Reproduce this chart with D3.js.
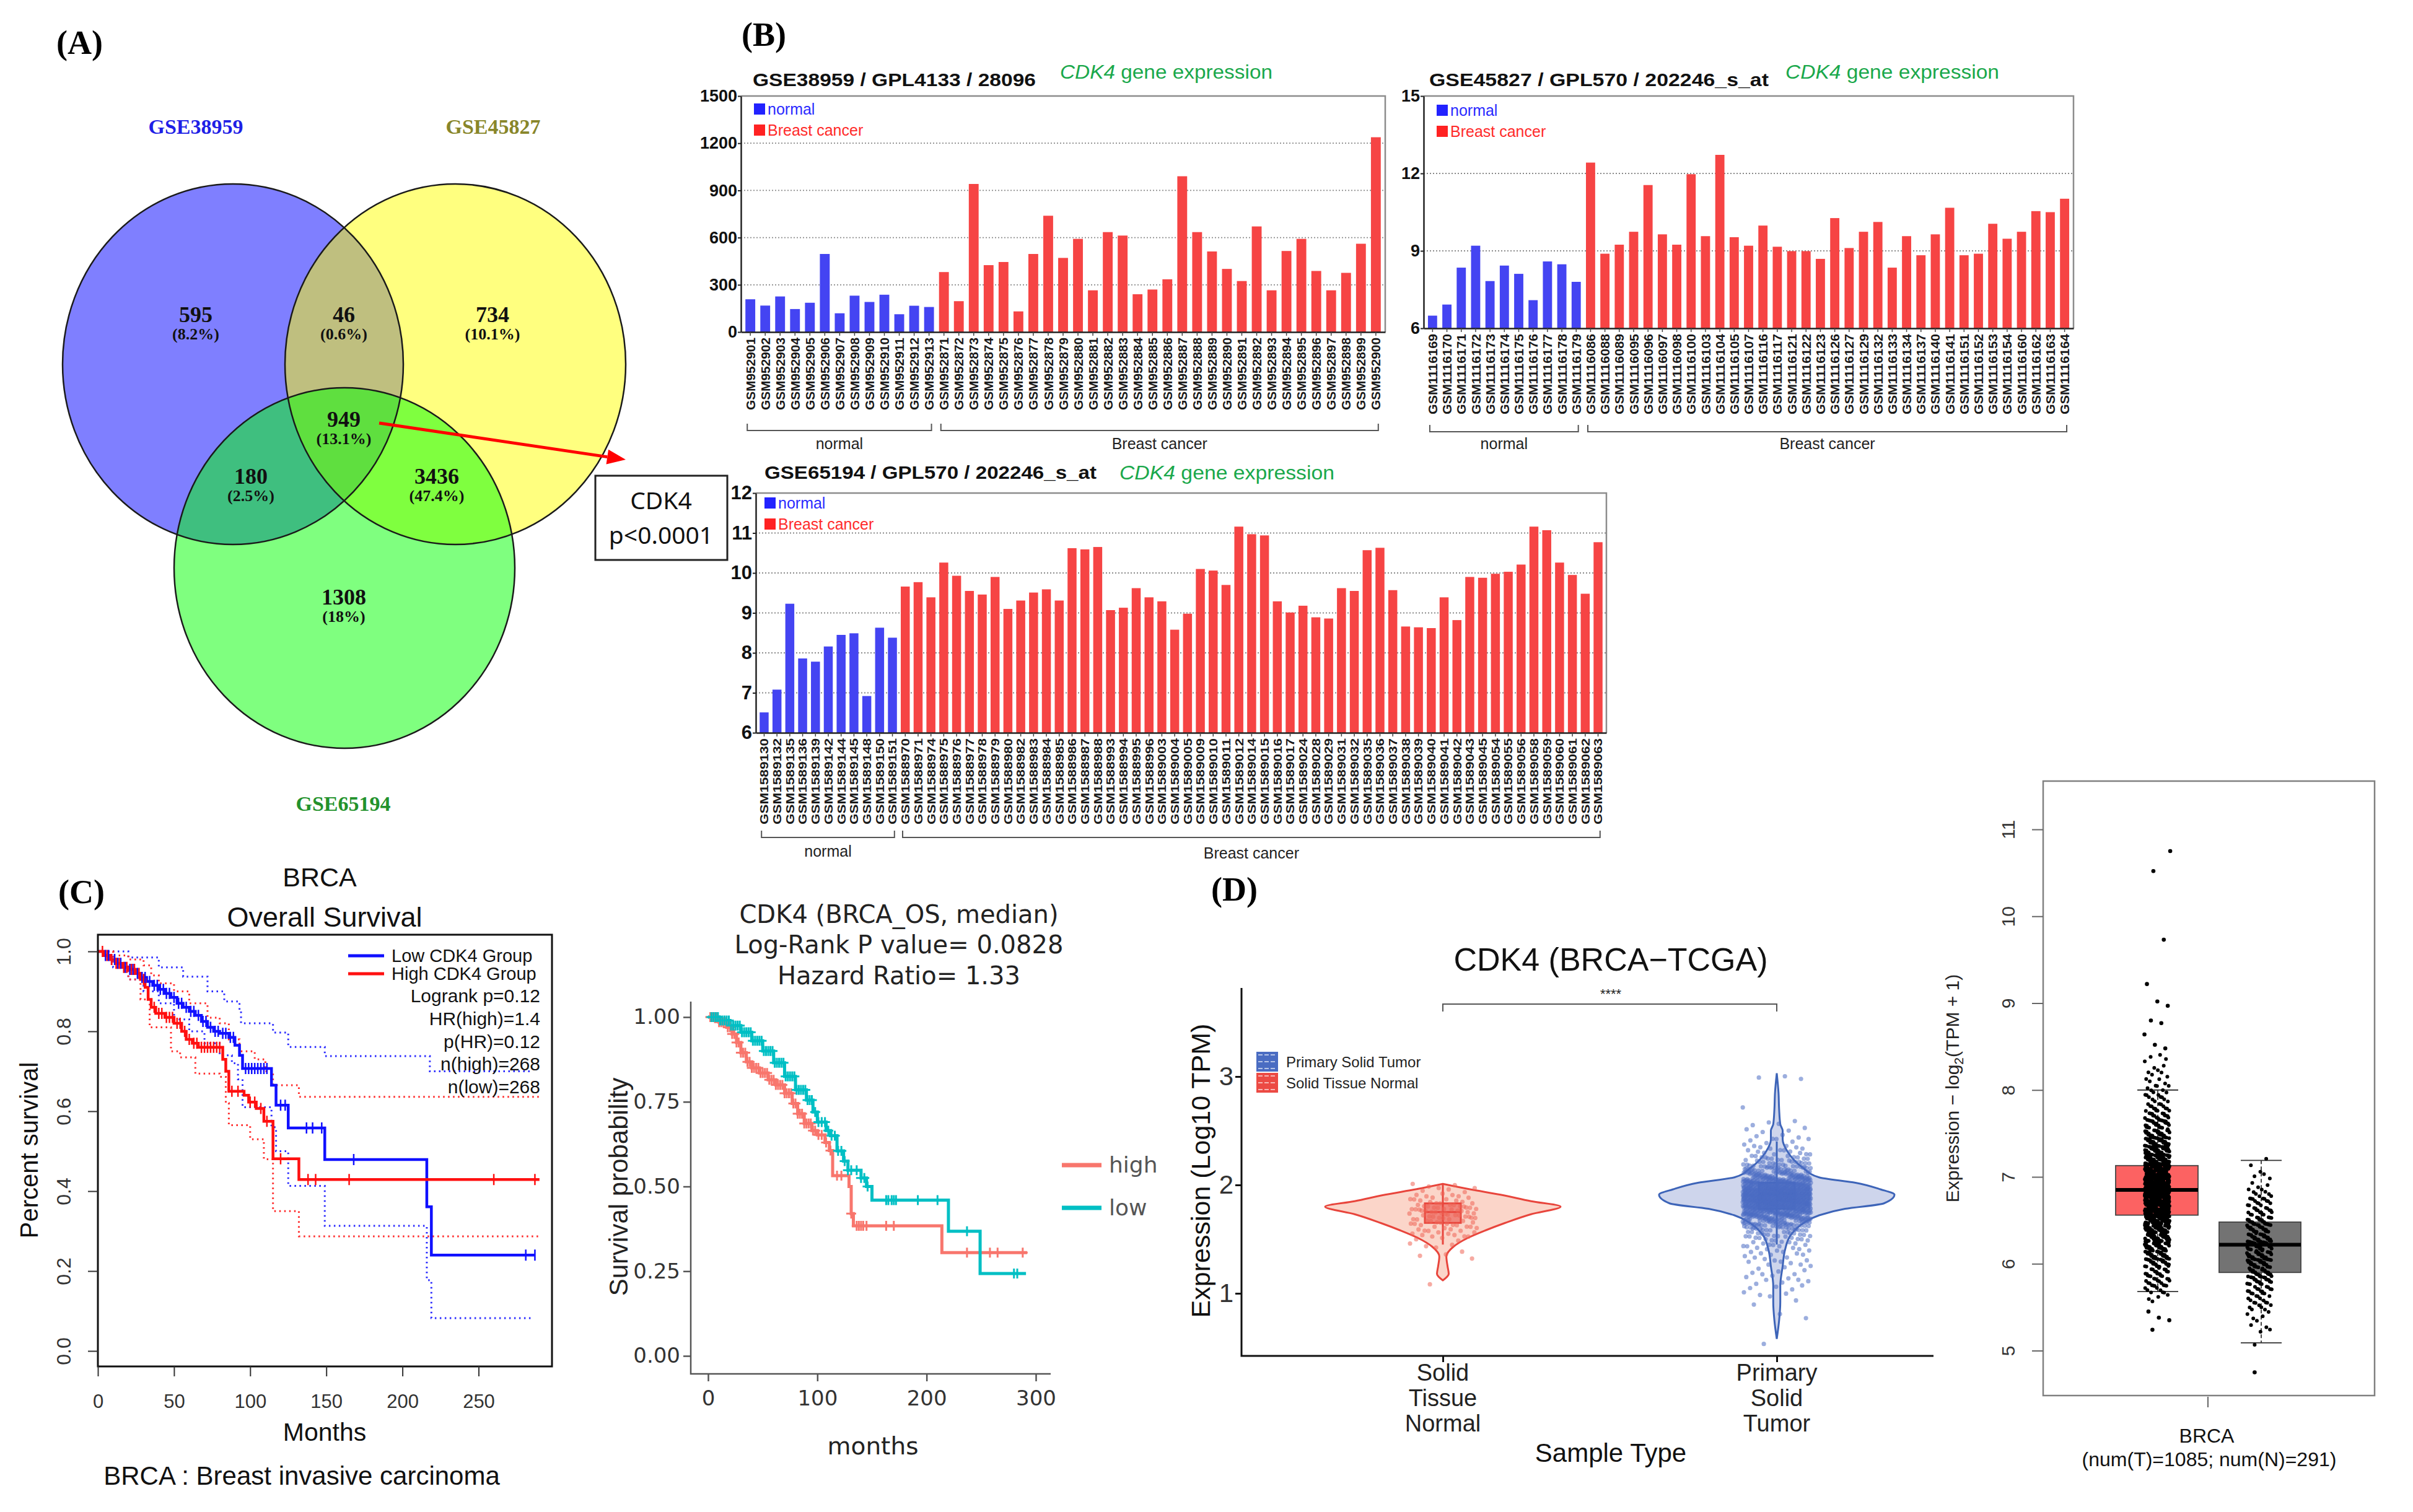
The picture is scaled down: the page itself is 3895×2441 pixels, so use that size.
<!DOCTYPE html>
<html><head><meta charset="utf-8">
<script src="https://cdn.jsdelivr.net/npm/d3@7"></script>
<style>html,body{margin:0;padding:0;background:#fff;}svg{display:block}</style>
</head><body>
<svg id="fig" width="3895" height="2441"></svg>
<script>
// ================= DATA =================
// Panel A – Venn
const vennSetNames = ["GSE38959", "GSE45827", "GSE65194"];
const vennCounts   = ["595", "46", "734", "949", "180", "3436", "1308"];
const vennPercents = ["(8.2%)", "(0.6%)", "(10.1%)", "(13.1%)", "(2.5%)", "(47.4%)", "(18%)"];
const cdk4BoxLines = ["CDK4", "p<0.0001"];

// Panel B – GSE38959
const gse38959NormalIds = ["GSM952901","GSM952902","GSM952903","GSM952904","GSM952905","GSM952906","GSM952907","GSM952908","GSM952909","GSM952910","GSM952911","GSM952912","GSM952913"];
const gse38959NormalVals = [208,168,226,146,186,496,119,231,191,237,113,167,159];
const gse38959CancerIds = ["GSM952871","GSM952872","GSM952873","GSM952874","GSM952875","GSM952876","GSM952877","GSM952878","GSM952879","GSM952880","GSM952881","GSM952882","GSM952883","GSM952884","GSM952885","GSM952886","GSM952887","GSM952888","GSM952889","GSM952890","GSM952891","GSM952892","GSM952893","GSM952894","GSM952895","GSM952896","GSM952897","GSM952898","GSM952899","GSM952900"];
const gse38959CancerVals = [381,196,941,425,445,131,496,739,471,592,265,635,613,240,270,335,990,635,512,401,324,671,265,515,592,388,265,376,561,1238];
const gse38959Ticks = [0,300,600,900,1200,1500];

// Panel B – GSE45827
const gse45827NormalIds = ["GSM1116169","GSM1116170","GSM1116171","GSM1116172","GSM1116173","GSM1116174","GSM1116175","GSM1116176","GSM1116177","GSM1116178","GSM1116179"];
const gse45827NormalVals = [6.49,6.92,8.35,9.20,7.83,8.43,8.11,7.09,8.59,8.48,7.80];
const gse45827CancerIds = ["GSM1116086","GSM1116088","GSM1116089","GSM1116095","GSM1116096","GSM1116097","GSM1116098","GSM1116100","GSM1116103","GSM1116104","GSM1116105","GSM1116107","GSM1116116","GSM1116117","GSM1116121","GSM1116122","GSM1116123","GSM1116126","GSM1116127","GSM1116129","GSM1116132","GSM1116133","GSM1116134","GSM1116137","GSM1116140","GSM1116141","GSM1116151","GSM1116152","GSM1116153","GSM1116154","GSM1116160","GSM1116162","GSM1116163","GSM1116164"];
const gse45827CancerVals = [12.42,8.89,9.24,9.74,11.55,9.64,9.24,11.97,9.57,12.72,9.53,9.20,9.98,9.16,8.99,8.99,8.69,10.27,9.11,9.74,10.12,8.35,9.57,8.83,9.64,10.67,8.83,8.89,10.05,9.47,9.74,10.54,10.50,11.02];
const gse45827Ticks = [6,9,12,15];

// Panel B – GSE65194
const gse65194NormalIds = ["GSM1589130","GSM1589132","GSM1589135","GSM1589136","GSM1589139","GSM1589142","GSM1589144","GSM1589145","GSM1589148","GSM1589150","GSM1589151"];
const gse65194NormalVals = [6.51,7.08,9.23,7.86,7.78,8.16,8.45,8.49,6.92,8.63,8.38];
const gse65194CancerIds = ["GSM1588970","GSM1588971","GSM1588974","GSM1588975","GSM1588976","GSM1588977","GSM1588978","GSM1588979","GSM1588980","GSM1588982","GSM1588983","GSM1588984","GSM1588985","GSM1588986","GSM1588987","GSM1588988","GSM1588993","GSM1588994","GSM1588995","GSM1588996","GSM1589003","GSM1589004","GSM1589005","GSM1589009","GSM1589010","GSM1589011","GSM1589012","GSM1589014","GSM1589015","GSM1589016","GSM1589017","GSM1589024","GSM1589028","GSM1589029","GSM1589031","GSM1589032","GSM1589035","GSM1589036","GSM1589037","GSM1589038","GSM1589039","GSM1589040","GSM1589041","GSM1589042","GSM1589043","GSM1589045","GSM1589054","GSM1589055","GSM1589056","GSM1589058","GSM1589059","GSM1589060","GSM1589061","GSM1589062","GSM1589063"];
const gse65194CancerVals = [9.66,9.77,9.39,10.26,9.93,9.55,9.46,9.90,9.10,9.31,9.51,9.59,9.31,10.62,10.59,10.65,9.07,9.13,9.62,9.39,9.29,8.58,8.98,10.10,10.06,9.70,11.16,10.97,10.94,9.29,9.01,9.18,8.89,8.86,9.62,9.55,10.57,10.63,9.57,8.66,8.64,8.62,9.39,8.82,9.90,9.88,9.98,10.03,10.21,11.16,11.07,10.26,9.95,9.48,10.77];
const gse65194Ticks = [6,7,8,9,10,11,12];

// Panel C – GEPIA KM  [months, survival]
const kmLowSteps  = [[0,1],[4,0.99],[8,0.98],[12,0.97],[16,0.96],[20,0.955],[24,0.945],[28,0.935],[32,0.925],[36,0.915],[40,0.905],[44,0.895],[48,0.885],[52,0.87],[56,0.86],[60,0.85],[64,0.84],[68,0.825],[72,0.81],[76,0.80],[80,0.795],[86,0.785],[90,0.765],[93,0.74],[95,0.707],[114,0.665],[117,0.615],[125,0.558],[149,0.479],[216,0.361],[219,0.240]];
const kmLowEnd = 287;
const kmHighSteps = [[0,1],[4,0.99],[8,0.98],[12,0.97],[16,0.96],[20,0.955],[25,0.945],[28,0.93],[31,0.91],[33,0.88],[35,0.86],[38,0.845],[44,0.835],[50,0.82],[55,0.80],[58,0.78],[62,0.77],[66,0.76],[82,0.73],[84,0.70],[86,0.65],[96,0.64],[99,0.623],[104,0.607],[109,0.575],[115,0.481],[132,0.429]];
const kmHighEnd = 290;
const kmLowUpper  = [[0,1],[20,0.985],[40,0.96],[56,0.937],[72,0.90],[83,0.875],[93,0.85],[94,0.82],[115,0.797],[125,0.761],[149,0.738],[218,0.70]];
const kmLowLower  = [[0,1],[10,0.96],[20,0.93],[30,0.90],[40,0.87],[50,0.83],[60,0.80],[70,0.77],[80,0.74],[88,0.72],[92,0.68],[95,0.61],[114,0.56],[117,0.50],[125,0.413],[149,0.313],[216,0.177],[219,0.082]];
const kmHighUpper = [[0,1],[10,0.99],[20,0.98],[30,0.965],[35,0.94],[40,0.92],[50,0.90],[60,0.87],[72,0.834],[80,0.82],[86,0.78],[93,0.75],[103,0.73],[110,0.70],[115,0.665],[132,0.636]];
const kmHighLower = [[0,1],[10,0.97],[20,0.93],[28,0.88],[34,0.81],[48,0.75],[54,0.735],[64,0.694],[80,0.686],[84,0.62],[86,0.565],[100,0.53],[109,0.48],[115,0.35],[132,0.287]];
const kmLowCensor  = [5,7,9,11,13,15,18,21,23,26,29,31,34,37,39,41,43,45,47,50,53,55,58,61,63,66,69,71,74,77,79,82,84,87,89,97,99,101,103,105,107,109,111,120,123,137,141,147,168,281,287];
const kmHighCensor = [3,6,9,12,14,17,19,22,24,27,30,37,40,42,45,47,49,52,54,57,60,63,65,68,70,72,74,76,78,80,88,92,100,103,107,111,120,138,143,165,260,287];
const kmLegend = ["Low CDK4 Group", "High CDK4 Group"];
const kmStats = ["Logrank p=0.12", "HR(high)=1.4", "p(HR)=0.12", "n(high)=268", "n(low)=268"];
const kmTicksX = [0,50,100,150,200,250];
const kmTicksY = [0,0.2,0.4,0.6,0.8,1.0];

// Panel C – KM plotter
const kpLowSteps  = [[0,1],[10,0.99],[20,0.975],[30,0.955],[40,0.93],[50,0.90],[60,0.865],[70,0.825],[80,0.785],[90,0.755],[96,0.72],[100,0.69],[108,0.665],[112,0.65],[118,0.605],[124,0.575],[128,0.548],[140,0.525],[145,0.50],[150,0.46],[220,0.368],[249,0.243]];
const kpLowEnd = 291;
const kpHighSteps = [[0,1],[10,0.985],[17,0.97],[22,0.95],[26,0.925],[30,0.895],[35,0.868],[40,0.85],[47,0.835],[55,0.815],[62,0.80],[70,0.775],[77,0.745],[82,0.715],[88,0.686],[95,0.665],[100,0.652],[107,0.63],[111,0.606],[114,0.532],[129,0.50],[131,0.42],[133,0.384],[214,0.305]];
const kpHighEnd = 292;
const kpLowCensor  = [3,5,7,9,11,13,15,17,19,21,23,25,27,29,31,33,35,37,39,41,43,45,47,49,51,53,55,57,59,61,63,65,67,69,71,73,75,77,79,81,83,85,87,89,91,93,95,98,101,104,107,110,113,116,119,122,125,128,131,136,140,143,146,163,165,168,170,172,192,210,237,280,283];
const kpHighCensor = [2,4,6,8,10,12,14,16,18,20,22,24,26,28,30,32,34,36,38,40,42,44,46,48,50,52,54,56,58,60,62,64,66,68,70,72,74,76,78,80,82,84,86,88,90,92,94,96,98,101,104,108,112,118,122,131,136,138,140,142,145,163,170,237,258,265,288];
const kpTitle = ["CDK4 (BRCA_OS, median)", "Log-Rank P value= 0.0828", "Hazard Ratio= 1.33"];
const kpTicksX = [0,100,200,300];
const kpTicksY = [0,0.25,0.5,0.75,1.0];
const kpLegend = ["high", "low"];

// Panel D – violin (log10 TPM)
const violinCats = ["Solid Tissue Normal", "Primary Solid Tumor"];
const normalViolinLevels  = [1.12,1.18,1.25,1.34,1.43,1.51,1.58,1.65,1.73,1.80,1.85,1.91,1.96,2.01];
const normalViolinDensity = [0,0.05,0.04,0.03,0.09,0.21,0.36,0.53,0.75,1.0,0.75,0.49,0.23,0];
const tumorViolinLevels   = [0.58,0.75,0.92,1.07,1.25,1.40,1.54,1.65,1.72,1.78,1.83,1.91,1.96,2.02,2.07,2.16,2.31,2.42,2.50,2.56,2.70,2.85,3.03];
const tumorViolinDensity  = [0,0.02,0.03,0.03,0.05,0.07,0.12,0.23,0.36,0.58,0.91,1.0,0.88,0.67,0.36,0.22,0.09,0.05,0.05,0.03,0.02,0.015,0];
const normalViolinBinStart = 1.10, violinBinStep = 0.05;
const normalViolinCounts = [1,0,0,0,1,2,2,3,5,7,10,12,14,15,14,10,7,5,3];
const tumorViolinBinStart = 0.55;
const tumorViolinCounts = [1,0,0,0,1,1,0,1,2,3,4,4,4,5,5,6,7,8,10,12,16,25,40,60,85,110,130,135,120,95,70,45,30,20,14,10,7,5,4,3,3,2,0,1,0,0,0,0,0,3];
const normalViolinBox = {q1:1.65, med:1.75, q3:1.83, lo:1.45, hi:2.0};
const tumorViolinBox  = {q1:1.78, med:1.92, q3:2.02, lo:1.45, hi:2.4};
const violinTicks = [1,2,3];

// Panel D – GEPIA box plot (log2 TPM+1)
const boxTumor  = {q1:6.56, med:6.85, q3:7.13, lo:5.68, hi:8.0};
const boxNormal = {q1:5.90, med:6.22, q3:6.48, lo:5.09, hi:7.19};
const boxTumorBinStart = 5.6, boxBinStep = 0.1;
const boxTumorCounts = [4,10,14,18,25,32,40,50,60,70,80,88,92,90,85,75,62,50,40,32,25,18,14,10,7,5,5,3,3];
const boxTumorOutliers = [5.24,5.35,5.38,5.45,8.48,8.52,8.64,8.77,8.80,8.97,9.02,9.22,9.73,10.52,10.75];
const boxNormalBinStart = 5.1;
const boxNormalCounts = [1,2,3,4,7,10,15,20,24,28,30,30,28,24,20,16,12,8,5,3,2,1];
const boxNormalOutliers = [4.75];
const boxTicks = [5,6,7,8,9,10,11];

// ================= DRAWING =================
const svg = d3.select("#fig");
const F_SANS = "'Liberation Sans', Arial, sans-serif";
const F_SERIF = "'Liberation Serif', 'Times New Roman', serif";
const F_DV = "'DejaVu Sans', Verdana, sans-serif";
const F_CAL = "'Noto Sans', 'Open Sans', sans-serif";
const fmtInt = d3.format("d");

function txt(g, x, y, s, o = {}) {
  const t = g.append("text").attr("x", x).attr("y", y).text(s)
    .attr("font-family", o.ff || F_SANS).attr("font-size", o.fs || 20)
    .attr("font-weight", o.fw || "normal").attr("fill", o.fill || "#000")
    .attr("text-anchor", o.anchor || "start");
  if (o.len) t.attr("textLength", o.len).attr("lengthAdjust", "spacingAndGlyphs");
  if (o.style) t.attr("font-style", o.style);
  if (o.rot) t.attr("transform", `rotate(${o.rot},${x},${y})`);
  return t;
}
const jx = i => ((i * 0.6180339887 + 0.31) % 1);
const jy = i => ((i * 0.7548776662 + 0.17) % 1);

// panel letters
txt(svg, 91, 87, "(A)", {ff: F_SERIF, fs: 54, fw: "bold"});
txt(svg, 1197, 74, "(B)", {ff: F_SERIF, fs: 54, fw: "bold"});
txt(svg, 94, 1458, "(C)", {ff: F_SERIF, fs: 54, fw: "bold"});
txt(svg, 1955, 1454, "(D)", {ff: F_SERIF, fs: 54, fw: "bold"});

// ---------- Panel A ----------
(function () {
  const g = svg.append("g");
  const ell = [{cx: 376, cy: 588, c: "#0000ff"}, {cx: 735, cy: 588, c: "#ffff00"}, {cx: 556, cy: 917, c: "#00ff00"}];
  g.selectAll(".ef").data(ell).join("ellipse")
    .attr("cx", d => d.cx).attr("cy", d => d.cy).attr("rx", 275).attr("ry", 291)
    .attr("fill", d => d.c).attr("fill-opacity", 0.5);
  g.selectAll(".es").data(ell).join("ellipse")
    .attr("cx", d => d.cx).attr("cy", d => d.cy).attr("rx", 275).attr("ry", 291)
    .attr("fill", "none").attr("stroke", "#1a1a1a").attr("stroke-width", 2.5);
  const setPos = [[316, 216, "#1f1fe6"], [796, 216, "#88862a"], [554, 1309, "#23922c"]];
  vennSetNames.forEach((s, i) => txt(g, setPos[i][0], setPos[i][1], s, {ff: F_SERIF, fw: "bold", fs: 34, anchor: "middle", fill: setPos[i][2]}));
  const pos = [[316, 520], [555, 520], [795, 520], [555, 689], [405, 781], [705, 781], [555, 976]];
  vennCounts.forEach((s, i) => {
    txt(g, pos[i][0], pos[i][1], s, {ff: F_SERIF, fw: "bold", fs: 36, anchor: "middle", fill: "#111"});
    txt(g, pos[i][0], pos[i][1] + 28, vennPercents[i], {ff: F_SERIF, fw: "bold", fs: 26, anchor: "middle", fill: "#111"});
  });
  const x1 = 612, y1 = 683, x2 = 1010, y2 = 742;
  const L = Math.hypot(x2 - x1, y2 - y1), ux = (x2 - x1) / L, uy = (y2 - y1) / L;
  const hl = 30, hw = 12;
  g.append("line").attr("x1", x1).attr("y1", y1).attr("x2", x2 - ux * hl).attr("y2", y2 - uy * hl)
    .attr("stroke", "#ff0000").attr("stroke-width", 5);
  g.append("polygon").attr("points", [[x2, y2], [x2 - ux * hl - uy * hw, y2 - uy * hl + ux * hw], [x2 - ux * hl + uy * hw, y2 - uy * hl - ux * hw]].map(p => p.join(",")).join(" "))
    .attr("fill", "#ff0000");
  g.append("rect").attr("x", 961).attr("y", 768).attr("width", 213).attr("height", 136)
    .attr("fill", "#fff").attr("stroke", "#222").attr("stroke-width", 3);
  txt(g, 1067, 822, cdk4BoxLines[0], {ff: F_CAL, fs: 39, anchor: "middle", fill: "#111"});
  txt(g, 1067, 878, cdk4BoxLines[1], {ff: F_CAL, fs: 39, anchor: "middle", fill: "#111"});
})();

// ---------- Panel B ----------
function barChart(c) {
  const g = svg.append("g");
  const ids = c.nIds.concat(c.cIds), vals = c.nVals.concat(c.cVals);
  const nN = c.nIds.length;
  const x = d3.scaleBand().domain(ids).range([c.x0, c.x1]).paddingInner(c.pi).paddingOuter(c.po);
  const y = d3.scaleLinear().domain([c.ticks[0], c.ticks[c.ticks.length - 1]]).range([c.yB, c.yT]);
  g.selectAll(".grid").data(c.ticks.slice(1, -1)).join("line")
    .attr("x1", c.x0).attr("x2", c.x1).attr("y1", d => y(d)).attr("y2", d => y(d))
    .attr("stroke", "#8a8a8a").attr("stroke-width", 1.8).attr("stroke-dasharray", "2,3");
  g.append("path").attr("d", `M${c.x0},${c.yT}H${c.x1}V${c.yB}`).attr("fill", "none")
    .attr("stroke", "#8c8c8c").attr("stroke-width", 2.5);
  g.selectAll(".bar").data(ids).join("rect")
    .attr("x", d => x(d)).attr("width", x.bandwidth())
    .attr("y", (d, i) => y(vals[i])).attr("height", (d, i) => y(c.ticks[0]) - y(vals[i]))
    .attr("fill", (d, i) => i < nN ? "#4444f2" : "#f64444");
  const ya = g.append("g").attr("transform", `translate(${c.x0},0)`)
    .call(d3.axisLeft(y).tickValues(c.ticks).tickFormat(fmtInt).tickSize(5).tickSizeOuter(0));
  ya.select(".domain").attr("stroke", "#222").attr("stroke-width", 2.5);
  ya.selectAll(".tick line").attr("stroke", "#222").attr("stroke-width", 2);
  ya.selectAll("text").attr("font-family", F_SANS).attr("font-weight", "bold")
    .attr("font-size", c.tickFs).attr("fill", "#111").attr("x", -6);
  const xa = g.append("g").attr("transform", `translate(0,${c.yB})`)
    .call(d3.axisBottom(x).tickSize(6).tickSizeOuter(0));
  xa.select(".domain").attr("stroke", "#222").attr("stroke-width", 2.5);
  xa.selectAll(".tick line").attr("stroke", "#444").attr("stroke-width", 1.5);
  xa.selectAll("text").attr("transform", "rotate(-90)").attr("text-anchor", "end")
    .attr("x", -9).attr("y", 0).attr("dy", "0.36em")
    .attr("font-family", F_SANS).attr("font-weight", "bold").attr("font-size", c.labFs)
    .attr("fill", "#1a1a1a").attr("textLength", c.labLen).attr("lengthAdjust", "spacingAndGlyphs");
  const bracket = (i0, i1, label, ty) => {
    const a = x(ids[i0]) + 3, b = x(ids[i1]) + x.bandwidth() - 4;
    g.append("path").attr("d", `M${a},${c.brY - 11}V${c.brY}H${b}V${c.brY - 11}`)
      .attr("fill", "none").attr("stroke", "#555").attr("stroke-width", 2);
    txt(g, (a + b) / 2, ty, label, {fs: 25, anchor: "middle", fill: "#222"});
  };
  bracket(0, nN - 1, "normal", c.brT1);
  bracket(nN, ids.length - 1, "Breast cancer", c.brT2);
  txt(g, c.tX, c.tY, c.title, {fw: "bold", fs: 30, len: c.tLen, fill: "#111"});
  const gt = g.append("text").attr("x", c.gX).attr("y", c.gY).attr("font-family", F_SANS)
    .attr("font-size", 31).attr("fill", "#1aa84b").attr("textLength", c.gLen).attr("lengthAdjust", "spacingAndGlyphs");
  gt.append("tspan").attr("font-style", "italic").text("CDK4");
  gt.append("tspan").text(" gene expression");
  const lx = c.x0 + c.legDx, ly = c.yT + c.legDy;
  g.append("rect").attr("x", lx).attr("y", ly).attr("width", 18).attr("height", 18).attr("fill", "#2222ff");
  txt(g, lx + 22, ly + 18, "normal", {fs: 25, fill: "#2a2aff"});
  g.append("rect").attr("x", lx).attr("y", ly + 34).attr("width", 18).attr("height", 18).attr("fill", "#ff2222");
  txt(g, lx + 22, ly + 52, "Breast cancer", {fs: 25, fill: "#ff2a2a"});
}
barChart({nIds: gse38959NormalIds, nVals: gse38959NormalVals, cIds: gse38959CancerIds, cVals: gse38959CancerVals,
  ticks: gse38959Ticks, x0: 1196, x1: 2236, yT: 155, yB: 536, pi: 0.34, po: 0.3, tickFs: 27, labFs: 21, labLen: 117,
  brY: 695, brT1: 725, brT2: 725, title: "GSE38959 / GPL4133 / 28096", tX: 1215, tY: 139, tLen: 457,
  gX: 1711, gY: 127, gLen: 343, legDx: 21, legDy: 12});
barChart({nIds: gse45827NormalIds, nVals: gse45827NormalVals, cIds: gse45827CancerIds, cVals: gse45827CancerVals,
  ticks: gse45827Ticks, x0: 2298, x1: 3347, yT: 155, yB: 530, pi: 0.36, po: 0.3, tickFs: 27, labFs: 21, labLen: 130,
  brY: 697, brT1: 725, brT2: 725, title: "GSE45827 / GPL570 / 202246_s_at", tX: 2307, tY: 139, tLen: 548,
  gX: 2882, gY: 127, gLen: 345, legDx: 21, legDy: 14});
barChart({nIds: gse65194NormalIds, nVals: gse65194NormalVals, cIds: gse65194CancerIds, cVals: gse65194CancerVals,
  ticks: gse65194Ticks, x0: 1220, x1: 2593, yT: 796, yB: 1183, pi: 0.3, po: 0.3, tickFs: 31, labFs: 19, labLen: 139,
  brY: 1352, brT1: 1383, brT2: 1386, title: "GSE65194 / GPL570 / 202246_s_at", tX: 1234, tY: 773, tLen: 536,
  gX: 1807, gY: 774, gLen: 347, legDx: 14, legDy: 7});

// ---------- Panel C – GEPIA KM ----------
function stepLine(steps, endT, xs, ys) {
  const pts = steps.concat([[endT, steps[steps.length - 1][1]]]);
  return d3.line().x(d => xs(d[0])).y(d => ys(d[1])).curve(d3.curveStepAfter)(pts);
}
function survAt(steps, t) { let s = steps[0][1]; for (const [tt, ss] of steps) { if (tt <= t) s = ss; else break; } return s; }
function censorPath(times, steps, xs, ys, h, w) {
  return times.map(t => { const X = xs(t), Y = ys(survAt(steps, t)); return `M${X},${Y - h}V${Y + h}M${X - w},${Y}H${X + w}`; }).join("");
}
(function () {
  const g = svg.append("g");
  const xs = d3.scaleLinear().domain([0, 250]).range([158, 772.5]);
  const ys = d3.scaleLinear().domain([0, 1]).range([2181, 1536]);
  txt(g, 516, 1431, "BRCA", {fs: 43, anchor: "middle", fill: "#111"});
  txt(g, 524, 1496, "Overall Survival", {fs: 45, anchor: "middle", fill: "#111"});
  [[kmLowUpper, kmLowEnd - 2, "#2b2bff"], [kmLowLower, kmLowEnd - 2, "#2b2bff"], [kmHighUpper, kmHighEnd, "#ff2b2b"], [kmHighLower, kmHighEnd, "#ff2b2b"]]
    .forEach(([s, e, col]) => g.append("path").attr("d", stepLine(s, e, xs, ys)).attr("fill", "none")
      .attr("stroke", col).attr("stroke-width", 3).attr("stroke-dasharray", "2.5,5.5"));
  g.append("path").attr("d", stepLine(kmLowSteps, kmLowEnd, xs, ys)).attr("fill", "none").attr("stroke", "#1010ff").attr("stroke-width", 4.5);
  g.append("path").attr("d", stepLine(kmHighSteps, kmHighEnd, xs, ys)).attr("fill", "none").attr("stroke", "#ff1010").attr("stroke-width", 4.5);
  g.append("path").attr("d", censorPath(kmLowCensor, kmLowSteps, xs, ys, 9, 0)).attr("stroke", "#1010ff").attr("stroke-width", 2.5).attr("fill", "none");
  g.append("path").attr("d", censorPath(kmHighCensor, kmHighSteps, xs, ys, 9, 0)).attr("stroke", "#ff1010").attr("stroke-width", 2.5).attr("fill", "none");
  g.append("rect").attr("x", 158).attr("y", 1509).attr("width", 733).attr("height", 697).attr("fill", "none").attr("stroke", "#111").attr("stroke-width", 3);
  const ya = g.append("g").attr("transform", "translate(158,0)").call(d3.axisLeft(ys).tickValues(kmTicksY).tickFormat(d3.format(".1f")).tickSize(16));
  ya.select(".domain").remove();
  ya.selectAll(".tick line").attr("stroke", "#333").attr("stroke-width", 2);
  ya.selectAll("text").attr("transform", "rotate(-90)").attr("x", 0).attr("y", -44).attr("dy", 0)
    .attr("text-anchor", "middle").attr("font-family", F_SANS).attr("font-size", 32).attr("fill", "#333");
  const xa = g.append("g").attr("transform", "translate(0,2206)").call(d3.axisBottom(xs).tickValues(kmTicksX).tickFormat(fmtInt).tickSize(16));
  xa.select(".domain").remove();
  xa.selectAll(".tick line").attr("stroke", "#333").attr("stroke-width", 2);
  xa.selectAll("text").attr("y", 67).attr("dy", 0).attr("font-family", F_SANS).attr("font-size", 31).attr("fill", "#333");
  txt(g, 524, 2326, "Months", {fs: 41, anchor: "middle", fill: "#111"});
  txt(g, 61, 1857, "Percent survival", {fs: 40, anchor: "middle", fill: "#111", rot: -90});
  txt(g, 487, 2397, "BRCA : Breast invasive carcinoma", {fs: 42, anchor: "middle", fill: "#111"});
  g.append("line").attr("x1", 562).attr("x2", 620).attr("y1", 1543).attr("y2", 1543).attr("stroke", "#1010ff").attr("stroke-width", 5);
  g.append("line").attr("x1", 562).attr("x2", 620).attr("y1", 1572).attr("y2", 1572).attr("stroke", "#ff1010").attr("stroke-width", 5);
  txt(g, 632, 1553, kmLegend[0], {fs: 29, fill: "#111"});
  txt(g, 632, 1582, kmLegend[1], {fs: 29, fill: "#111"});
  const base = [1618, 1655, 1692, 1728, 1765];
  kmStats.forEach((s, i) => txt(g, 872, base[i], s, {fs: 30, anchor: "end", fill: "#111"}));
})();

// ---------- Panel C – KM plotter ----------
(function () {
  const g = svg.append("g");
  const xs = d3.scaleLinear().domain([0, 300]).range([1143, 1672]);
  const ys = d3.scaleLinear().domain([0, 1]).range([2189, 1642]);
  [1490, 1539, 1589].forEach((b, i) => txt(g, 1451, b, kpTitle[i], {ff: F_DV, fs: 40, anchor: "middle", fill: "#222"}));
  g.append("path").attr("d", "M1115,1617V2218H1696").attr("fill", "none").attr("stroke", "#555").attr("stroke-width", 2.5);
  const ya = g.append("g").attr("transform", "translate(1115,0)").call(d3.axisLeft(ys).tickValues(kpTicksY).tickFormat(d3.format(".2f")).tickSize(12));
  ya.select(".domain").remove();
  ya.selectAll(".tick line").attr("stroke", "#555").attr("stroke-width", 2.5);
  ya.selectAll("text").attr("x", -17).attr("font-family", F_DV).attr("font-size", 34).attr("fill", "#333");
  const xa = g.append("g").attr("transform", "translate(0,2218)").call(d3.axisBottom(xs).tickValues(kpTicksX).tickFormat(fmtInt).tickSize(12));
  xa.select(".domain").remove();
  xa.selectAll(".tick line").attr("stroke", "#555").attr("stroke-width", 2.5);
  xa.selectAll("text").attr("y", 51).attr("dy", 0).attr("font-family", F_DV).attr("font-size", 34).attr("fill", "#333");
  g.append("path").attr("d", stepLine(kpHighSteps, kpHighEnd, xs, ys)).attr("fill", "none").attr("stroke", "#f8766d").attr("stroke-width", 5);
  g.append("path").attr("d", stepLine(kpLowSteps, kpLowEnd, xs, ys)).attr("fill", "none").attr("stroke", "#00bfc4").attr("stroke-width", 5);
  g.append("path").attr("d", censorPath(kpHighCensor, kpHighSteps, xs, ys, 8, 8)).attr("stroke", "#f8766d").attr("stroke-width", 3).attr("fill", "none");
  g.append("path").attr("d", censorPath(kpLowCensor, kpLowSteps, xs, ys, 8, 8)).attr("stroke", "#00bfc4").attr("stroke-width", 3).attr("fill", "none");
  txt(g, 1013, 1916, "Survival probability", {fs: 42, anchor: "middle", fill: "#222", rot: -90});
  txt(g, 1409, 2348, "months", {ff: F_DV, fs: 39, anchor: "middle", fill: "#222"});
  g.append("line").attr("x1", 1714).attr("x2", 1778).attr("y1", 1881).attr("y2", 1881).attr("stroke", "#f8766d").attr("stroke-width", 7);
  g.append("line").attr("x1", 1714).attr("x2", 1778).attr("y1", 1950).attr("y2", 1950).attr("stroke", "#00bfc4").attr("stroke-width", 7);
  txt(g, 1790, 1893, kpLegend[0], {ff: F_DV, fs: 36, fill: "#555"});
  txt(g, 1790, 1962, kpLegend[1], {ff: F_DV, fs: 36, fill: "#555"});
})();

// ---------- Panel D – violin ----------
function binPoints(start, step, counts) {
  const out = []; let k = 0;
  counts.forEach((c, bi) => { for (let j = 0; j < c; j++) { out.push({v: start + bi * step + (jy(k) - 0.5) * step, k}); k++; } });
  return out;
}
(function () {
  const g = svg.append("g");
  const yv = d3.scaleLinear().domain([1, 3]).range([2088, 1738]);
  const xv = d3.scalePoint().domain(violinCats).range([2329, 2868]);
  const ws = d3.scaleLinear().domain([0, 1]).range([0, 190]);
  txt(g, 2600, 1567, "CDK4 (BRCA\u2212TCGA)", {fs: 52, anchor: "middle", fill: "#111"});
  const violins = [
    {cat: violinCats[0], lv: normalViolinLevels, dn: normalViolinDensity, stroke: "#e8453c", fill: "#fbd0c3", pt: "#ee6556",
      pts: binPoints(normalViolinBinStart, violinBinStep, normalViolinCounts), box: normalViolinBox},
    {cat: violinCats[1], lv: tumorViolinLevels, dn: tumorViolinDensity, stroke: "#3d64b8", fill: "#c9d0ea", pt: "#4a6bc2",
      pts: binPoints(tumorViolinBinStart, violinBinStep, tumorViolinCounts), box: tumorViolinBox}];
  violins.forEach(v => {
    const cx = xv(v.cat);
    const data = v.lv.map((l, i) => [l, v.dn[i]]);
    const area = d3.area().curve(d3.curveMonotoneY).y(d => yv(d[0])).x0(d => cx - ws(d[1])).x1(d => cx + ws(d[1]));
    g.append("path").attr("d", area(data)).attr("fill", v.fill).attr("fill-opacity", 0.9).attr("stroke", v.stroke).attr("stroke-width", 3);
    const b = v.box;
    g.append("line").attr("x1", cx).attr("x2", cx).attr("y1", yv(b.lo)).attr("y2", yv(b.hi)).attr("stroke", v.stroke).attr("stroke-width", 3);
    g.append("rect").attr("x", cx - 29).attr("width", 58).attr("y", yv(b.q3)).attr("height", yv(b.q1) - yv(b.q3))
      .attr("fill", v.stroke).attr("fill-opacity", 0.55).attr("stroke", v.stroke).attr("stroke-width", 3);
    g.append("line").attr("x1", cx - 29).attr("x2", cx + 29).attr("y1", yv(b.med)).attr("y2", yv(b.med)).attr("stroke", v.stroke).attr("stroke-width", 3);
    g.selectAll(null).data(v.pts).join("circle")
      .attr("cx", d => cx + (jx(d.k) - 0.5) * 110).attr("cy", d => yv(d.v)).attr("r", 3.6)
      .attr("fill", v.pt).attr("fill-opacity", 0.55);
  });
  g.append("path").attr("d", "M2004,1595V2189H3121").attr("fill", "none").attr("stroke", "#111").attr("stroke-width", 3);
  const ya = g.append("g").attr("transform", "translate(2004,0)").call(d3.axisLeft(yv).tickValues(violinTicks).tickFormat(fmtInt).tickSize(10));
  ya.select(".domain").remove();
  ya.selectAll(".tick line").attr("stroke", "#111").attr("stroke-width", 3);
  ya.selectAll("text").attr("x", -13).attr("font-family", F_SANS).attr("font-size", 42).attr("fill", "#333");
  const xa = g.append("g").attr("transform", "translate(0,2189)").call(d3.axisBottom(xv).tickSize(10).tickFormat(""));
  xa.select(".domain").remove();
  xa.selectAll(".tick line").attr("stroke", "#111").attr("stroke-width", 3);
  violinCats.forEach(cat => {
    const words = cat === violinCats[0] ? ["Solid", "Tissue", "Normal"] : ["Primary", "Solid", "Tumor"];
    words.forEach((w, i) => txt(g, xv(cat), 2229 + i * 41, w, {fs: 38, anchor: "middle", fill: "#222"}));
  });
  txt(g, 2600, 2360, "Sample Type", {fs: 42, anchor: "middle", fill: "#111"});
  txt(g, 1953, 1890, "Expression (Log10 TPM)", {fs: 43, anchor: "middle", fill: "#111", rot: -90});
  g.append("path").attr("d", `M${xv(violinCats[0])},1633V1621H${xv(violinCats[1])}V1633`).attr("fill", "none").attr("stroke", "#555").attr("stroke-width", 2);
  txt(g, 2600, 1612, "****", {fs: 22, anchor: "middle", fill: "#222"});
  const leg = [["#4a6cc2", "Primary Solid Tumor", 1698], ["#ec4a44", "Solid Tissue Normal", 1732]];
  leg.forEach(([col, lab, y0]) => {
    g.append("rect").attr("x", 2028).attr("y", y0).attr("width", 35).attr("height", 32).attr("fill", col);
    [5, 16, 27].forEach(dy => g.append("line").attr("x1", 2031).attr("x2", 2060).attr("y1", y0 + dy).attr("y2", y0 + dy)
      .attr("stroke", "#fff").attr("stroke-opacity", 0.6).attr("stroke-width", 2).attr("stroke-dasharray", "7,3"));
    txt(g, 2076, y0 + 25, lab, {fs: 24, fill: "#222"});
  });
})();

// ---------- Panel D – GEPIA box ----------
(function () {
  const g = svg.append("g");
  const yb = d3.scaleLinear().domain([5, 11]).range([2180.5, 1339]);
  g.append("rect").attr("x", 3298).attr("y", 1261).attr("width", 535).attr("height", 992).attr("fill", "none").attr("stroke", "#808080").attr("stroke-width", 2.5);
  const ya = g.append("g").attr("transform", "translate(3298,0)").call(d3.axisLeft(yb).tickValues(boxTicks).tickFormat(fmtInt).tickSize(18));
  ya.select(".domain").remove();
  ya.selectAll(".tick line").attr("stroke", "#666").attr("stroke-width", 2);
  ya.selectAll("text").attr("transform", "rotate(-90)").attr("x", 0).attr("y", -46).attr("dy", 0)
    .attr("text-anchor", "middle").attr("font-family", F_SANS).attr("font-size", 30).attr("fill", "#333");
  g.append("line").attr("x1", 3564).attr("x2", 3564).attr("y1", 2255).attr("y2", 2272).attr("stroke", "#666").attr("stroke-width", 2);
  const boxes = [{b: boxTumor, x0: 3415, x1: 3548, cap: [3450, 3516], fill: "#fc6262", cx: 3482,
      pts: binPoints(boxTumorBinStart, boxBinStep, boxTumorCounts), out: boxTumorOutliers},
    {b: boxNormal, x0: 3582, x1: 3714, cap: [3617, 3683], fill: "#737373", cx: 3647,
      pts: binPoints(boxNormalBinStart, boxBinStep, boxNormalCounts), out: boxNormalOutliers}];
  boxes.forEach(o => {
    const b = o.b, mid = (o.cap[0] + o.cap[1]) / 2;
    g.append("path").attr("d", `M${mid},${yb(b.hi)}V${yb(b.q3)}M${mid},${yb(b.q1)}V${yb(b.lo)}`).attr("stroke", "#333").attr("stroke-width", 1.8).attr("stroke-dasharray", "6,4");
    g.append("path").attr("d", `M${o.cap[0]},${yb(b.hi)}H${o.cap[1]}M${o.cap[0]},${yb(b.lo)}H${o.cap[1]}`).attr("stroke", "#333").attr("stroke-width", 1.8);
    g.append("rect").attr("x", o.x0).attr("width", o.x1 - o.x0).attr("y", yb(b.q3)).attr("height", yb(b.q1) - yb(b.q3))
      .attr("fill", o.fill).attr("stroke", "#444").attr("stroke-width", 1.8);
    g.selectAll(null).data(o.pts).join("circle")
      .attr("cx", d => o.cx + (jx(d.k) - 0.5) * 40).attr("cy", d => yb(d.v)).attr("r", 3).attr("fill", "#000");
    g.append("line").attr("x1", o.x0).attr("x2", o.x1).attr("y1", yb(b.med)).attr("y2", yb(b.med)).attr("stroke", "#000").attr("stroke-width", 6);
    g.selectAll(null).data(o.out).join("circle")
      .attr("cx", (d, i) => o.cx + (jx(i + 500) - 0.5) * 44).attr("cy", d => yb(d)).attr("r", 3.3).attr("fill", "#000");
  });
  const yl = g.append("text").attr("transform", "translate(3162,1757) rotate(-90)").attr("text-anchor", "middle")
    .attr("font-family", F_SANS).attr("font-size", 30).attr("fill", "#222");
  yl.append("tspan").text("Expression \u2212 log");
  yl.append("tspan").attr("font-size", 21).attr("dy", 7).text("2");
  yl.append("tspan").attr("dy", -7).text("(TPM + 1)");
  txt(g, 3562, 2329, "BRCA", {fs: 32, anchor: "middle", fill: "#111"});
  txt(g, 3566, 2367, "(num(T)=1085; num(N)=291)", {fs: 32, anchor: "middle", fill: "#111"});
})();
</script>
</body></html>
